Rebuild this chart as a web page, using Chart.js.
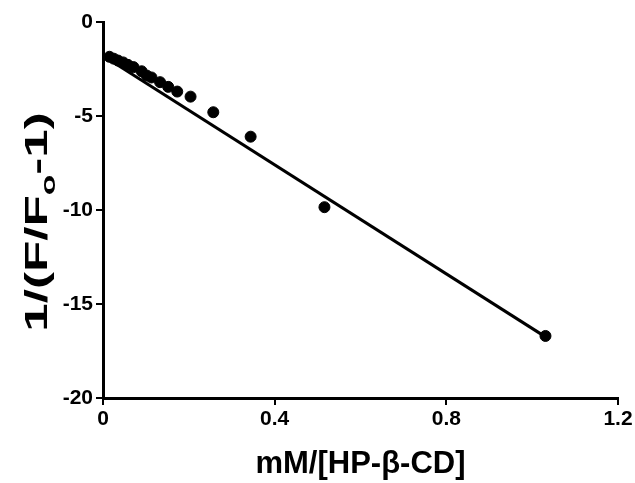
<!DOCTYPE html>
<html>
<head>
<meta charset="utf-8">
<script src="https://cdn.jsdelivr.net/npm/chart.js@4"></script>
<style>
  html, body { margin: 0; padding: 0; background: #fff; }
  #wrap { width: 635px; height: 483px; }
</style>
</head>
<body>
<div id="wrap"><canvas id="plot"></canvas></div>
<script>
// values
const xValues = [0.015, 0.025, 0.035, 0.047, 0.058, 0.071, 0.090, 0.102, 0.113, 0.133, 0.152, 0.173, 0.204, 0.257, 0.344, 0.516, 1.031];
const yValues = [-1.85, -1.95, -2.05, -2.15, -2.28, -2.40, -2.62, -2.85, -2.95, -3.20, -3.45, -3.70, -3.97, -4.80, -6.10, -9.85, -16.70];
// fitted line (intercept, slope), drawn over the data range
const fitIntercept = -1.8;
const fitSlope = -14.5;
const fitRange = [0, 1.031];
const xTicks = [0, 0.4, 0.8, 1.2];
const yTicks = [0, -5, -10, -15, -20];

const points = xValues.map((x, i) => ({ x: x, y: yValues[i] }));
const fitLine = fitRange.map(x => ({ x: x, y: fitIntercept + fitSlope * x }));

const fam = 'Liberation Sans, Arial, sans-serif';
const tickFont = { family: fam, size: 21, weight: 'bold' };

// y title has a subscript (and is stretched along its length in the original), so it is drawn here
const yTitle = {
    id: 'yTitle',
    afterDraw(chart) {
        const c = chart.ctx;
        const parts = [['1/(F/F', 32, 0], ['o', 21, 8], ['-1)', 32, 0]];
        c.save();
        c.fillStyle = '#000';
        c.textBaseline = 'alphabetic';
        c.translate(47, 222);
        c.rotate(-Math.PI / 2);
        c.scale(1.6, 1);
        let total = 0;
        parts.forEach(p => {
            c.font = 'bold ' + p[1] + 'px ' + fam;
            total += c.measureText(p[0]).width;
        });
        let x = -total / 2;
        parts.forEach(p => {
            c.font = 'bold ' + p[1] + 'px ' + fam;
            c.fillText(p[0], x, p[2]);
            x += c.measureText(p[0]).width;
        });
        c.restore();
    }
};

new Chart(document.getElementById('plot'), {
    type: 'scatter',
    data: {
        datasets: [{
            label: 'data',
            data: points,
            backgroundColor: '#000',
            borderColor: '#000',
            pointRadius: 5.5,
            pointHoverRadius: 5.5
        }, {
            label: 'fit',
            type: 'line',
            data: fitLine,
            borderColor: '#000',
            borderWidth: 3,
            pointRadius: 0,
            fill: false
        }]
    },
    options: {
        responsive: true,
        maintainAspectRatio: false,
        animation: false,
        layout: { padding: { top: 22, right: 17, left: 0, bottom: 0 } },
        plugins: { legend: { display: false }, tooltip: { enabled: false } },
        scales: {
            x: {
                type: 'linear',
                min: 0, max: 1.2,
                afterBuildTicks: s => { s.ticks = xTicks.map(v => ({ value: v })); },
                afterFit: s => { s.height = 85; },
                ticks: { color: '#000', font: tickFont, padding: 2, callback: v => v === 0 ? '0' : v.toFixed(1) },
                grid: { drawOnChartArea: false, drawTicks: true, tickLength: 7, color: '#000', lineWidth: 2 },
                border: { color: '#000', width: 3 },
                title: { display: true, text: 'mM/[HP-β-CD]', color: '#000', padding: { top: 4, bottom: 0 },
                         font: { family: fam, size: 31, weight: 'bold' } }
            },
            y: {
                type: 'linear',
                min: -20, max: 0,
                afterBuildTicks: s => { s.ticks = yTicks.map(v => ({ value: v })); },
                afterFit: s => { s.width = 103; },
                ticks: { color: '#000', font: tickFont, padding: 3 },
                grid: { drawOnChartArea: false, drawTicks: true, tickLength: 7, color: '#000', lineWidth: 2 },
                border: { color: '#000', width: 3 }
            }
        }
    },
    plugins: [yTitle]
});
</script>
</body>
</html>
